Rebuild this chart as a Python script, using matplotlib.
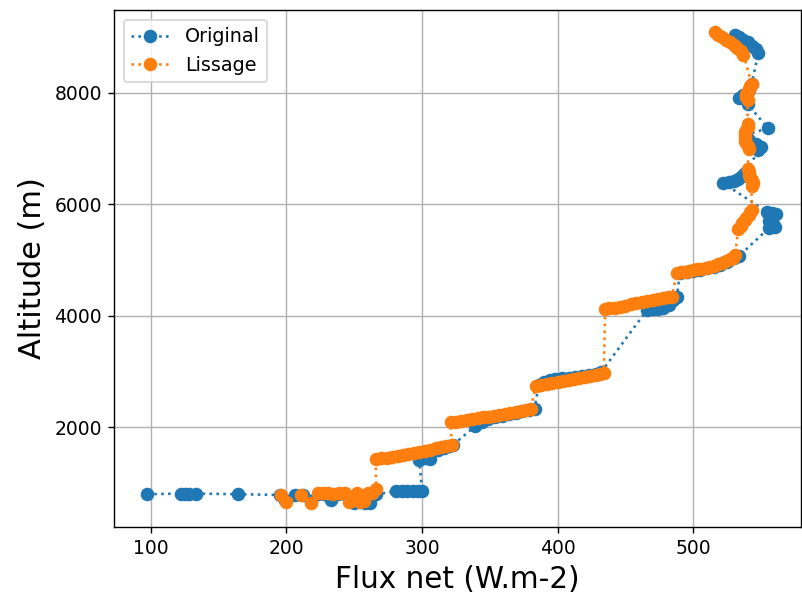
import matplotlib
matplotlib.use("Agg")
import matplotlib.pyplot as plt

# Original series (flux net W.m-2, altitude m)
flux_orig = [
    97.5, 122, 125, 128, 133, 164,
    195, 199, 206, 212, 218, 223, 228, 233, 238, 243, 247, 250, 254, 258, 262, 266,
    281, 285, 289, 293, 297, 300,
    298, 302, 306, 303, 308, 312, 316, 320, 323,
    339, 344, 349, 354, 359, 364, 369, 374, 379, 383,
    386, 390, 394, 398, 403, 408, 413, 418, 423, 428, 432,
    466, 470, 474, 478, 482, 485, 488,
    490, 495, 500, 505, 510, 515, 520, 525, 530, 534,
    556, 560, 559, 556, 557, 561, 558, 554,
    522, 526, 530, 533, 536, 538, 540,
    548, 550, 546, 541, 539, 555,
    540, 534, 537, 541, 543,
    548, 546, 543, 540, 537, 534, 531,
]
alt_orig = [
    805, 815, 815, 815, 815, 805,
    790, 700, 790, 790, 690, 800, 810, 700, 800, 800, 680, 650, 660, 650, 645, 800,
    860, 870, 860, 870, 860, 865,
    1420, 1460, 1440, 1530, 1570, 1600, 1630, 1660, 1690,
    2020, 2090, 2150, 2190, 2210, 2240, 2260, 2290, 2310, 2340,
    2760, 2810, 2850, 2870, 2880, 2890, 2900, 2920, 2940, 2960, 2990,
    4110, 4120, 4130, 4140, 4200, 4280, 4340,
    4770, 4790, 4810, 4830, 4850, 4880, 4920, 4970, 5030, 5080,
    5580, 5600, 5650, 5700, 5780, 5820, 5850, 5870,
    6380, 6400, 6420, 6460, 6510, 6560, 6600,
    6980, 7030, 7080, 7150, 7250, 7360,
    7800, 7900, 7960, 8050, 8150,
    8720, 8780, 8840, 8900, 8950, 9000, 9040,
]

# Smoothed series ("Lissage")
flux_liss = [
    196, 199.5, 210.5, 218, 223, 227, 231, 234, 238.6, 243, 246, 249, 252, 254, 257, 260, 263, 266,
    266, 270, 274, 278, 282, 286, 290, 294, 298, 302, 306, 310, 314, 318, 322,
    321, 325, 329, 333, 337, 341, 345, 349, 353, 357, 361, 365, 369, 373, 377, 380,
    384, 388, 392, 396, 400, 404, 408, 412, 416, 420, 424, 428, 431, 434,
    435, 438, 442, 446, 450, 454, 458, 462, 466, 470, 474, 478, 481, 484,
    488, 491, 494, 497, 500, 503, 506, 509, 512, 515, 518, 521, 524, 527, 529, 531,
    533, 535, 536, 538, 539, 541, 542, 543,
    543, 544, 543, 542, 541, 541, 540,
    541, 540, 539, 538, 538, 538, 538, 539, 540, 540,
    540, 539, 539, 540, 541, 542, 543,
    537, 535, 532, 530, 527, 524, 521, 518, 516,
]
alt_liss = [
    790, 660, 794, 655, 830, 830, 820, 800, 830, 820, 660, 700, 830, 660, 690, 830, 830, 900,
    1430, 1445, 1462, 1478, 1495, 1510, 1528, 1545, 1565, 1585, 1605, 1625, 1645, 1665, 1690,
    2090, 2105, 2120, 2135, 2150, 2165, 2180, 2196, 2212, 2228, 2245, 2262, 2280, 2298, 2316, 2335,
    2740, 2755, 2772, 2790, 2808, 2826, 2844, 2862, 2880, 2898, 2916, 2934, 2952, 2970,
    4120, 4133, 4150, 4168, 4186, 4205, 4223, 4241, 4260, 4278, 4297, 4315, 4330, 4345,
    4765, 4780, 4792, 4805, 4818, 4832, 4846, 4862, 4880, 4900, 4922, 4948, 4978, 5012, 5045, 5090,
    5560, 5610, 5660, 5710, 5760, 5810, 5860, 5890,
    6330, 6380, 6430, 6480, 6530, 6580, 6630,
    6990, 7040, 7090, 7140, 7190, 7240, 7290, 7340, 7390, 7430,
    7870, 7920, 7970, 8020, 8070, 8120, 8160,
    8680, 8740, 8800, 8850, 8900, 8950, 9000, 9040, 9080,
]

labels = ["Original", "Lissage"]

DPI = 125
fig = plt.figure(figsize=(802 / DPI, 593 / DPI), dpi=DPI)
ax = fig.add_axes([114 / 802, (593 - 526.7) / 593, (801 - 114) / 802, (526.7 - 10) / 593])

ax.plot(flux_orig, alt_orig, linestyle=":", marker="o", markersize=6.8,
        color="#1f77b4", label=labels[0])
ax.plot(flux_liss, alt_liss, linestyle=":", marker="o", markersize=6.8,
        color="#ff7f0e", label=labels[1])

ax.set_xlim(72.9, 579.4)
ax.set_ylim(222, 9482)
ax.grid(True)
ax.tick_params(labelsize=10.8)
ax.set_xlabel("Flux net (W.m-2)", fontsize=17)
ax.set_ylabel("Altitude (m)", fontsize=17.5)
ax.legend(loc="upper left", fontsize=11)

fig.savefig("out.png", dpi=DPI)
